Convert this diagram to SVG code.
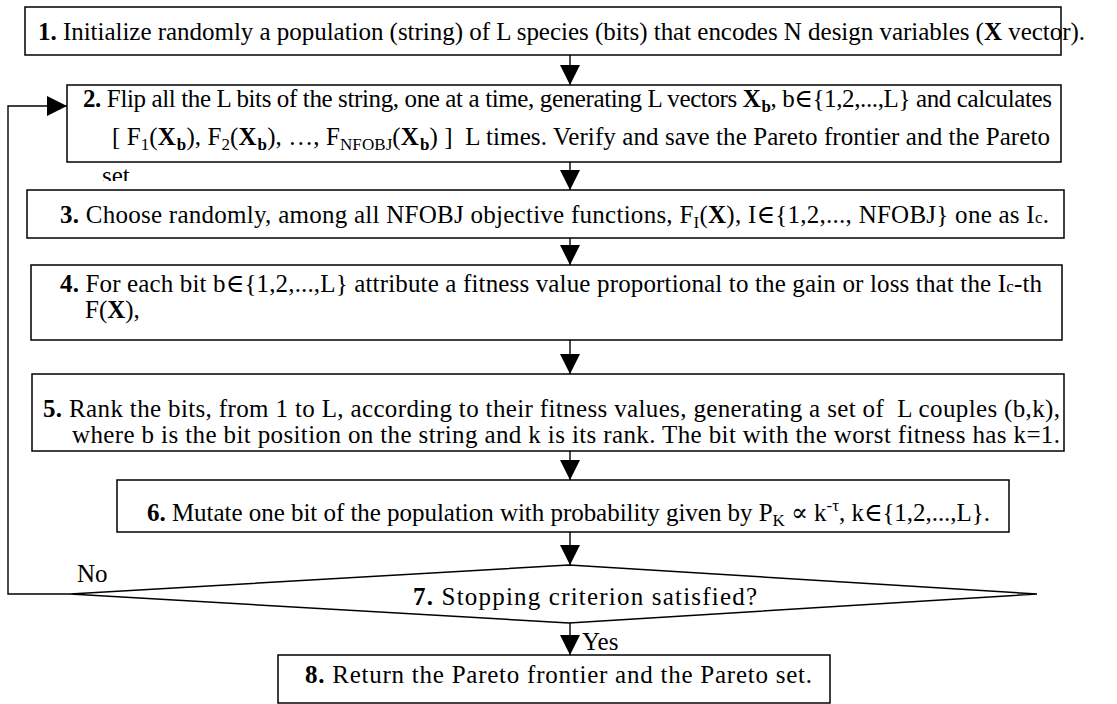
<svg xmlns="http://www.w3.org/2000/svg" width="1117" height="704" viewBox="0 0 1117 704">
  <style>
    text { font-family: "Liberation Serif", "Times New Roman", "DejaVu Serif", serif; font-size: 25px; fill: #000; }
    .b { font-weight: bold; }
    .s { font-size: 17px; }
    .box { fill: #fff; stroke: #000; stroke-width: 1.5; }
    .wire { fill: none; stroke: #000; stroke-width: 1.4; }
  </style>
  <defs>
    <marker id="head" markerUnits="userSpaceOnUse" markerWidth="20" markerHeight="20" viewBox="0 0 18 18" refX="18" refY="9" orient="auto">
      <path d="M0,0 L18,9 L0,18 z" fill="#000"/>
    </marker>
    <clipPath id="clip-overflow">
      <rect x="60" y="163" width="200" height="18"/>
    </clipPath>
  </defs>

  <rect width="1117" height="704" fill="#fff"/>

  <!-- connectors -->
  <g id="connectors">
    <line class="wire" x1="570" y1="55" x2="570" y2="85" marker-end="url(#head)"/>
    <line class="wire" x1="570" y1="162" x2="570" y2="190" marker-end="url(#head)"/>
    <line class="wire" x1="570" y1="238" x2="570" y2="265" marker-end="url(#head)"/>
    <line class="wire" x1="570" y1="340" x2="570" y2="374" marker-end="url(#head)"/>
    <line class="wire" x1="570" y1="451" x2="570" y2="480" marker-end="url(#head)"/>
    <line class="wire" x1="570" y1="532" x2="570" y2="565" marker-end="url(#head)"/>
    <line class="wire" x1="570" y1="623" x2="570" y2="655" marker-end="url(#head)"/>
    <path class="wire" d="M70,594 H8 V106 H67" marker-end="url(#head)"/>
    <text x="77" y="582">No</text>
    <text x="582" y="650">Yes</text>
  </g>

  <!-- step 1 -->
  <g id="step1">
    <rect class="box" x="25" y="7" width="1036" height="48"/>
    <text x="38" y="40" textLength="1047" lengthAdjust="spacing"><tspan class="b">1.</tspan> Initialize randomly a population (string) of L species (bits) that encodes N design variables (<tspan class="b">X</tspan> vector).</text>
  </g>

  <!-- step 2 -->
  <g id="step2">
    <rect class="box" x="67" y="85" width="994" height="77"/>
    <text x="83" y="107" textLength="969" lengthAdjust="spacing"><tspan class="b">2.</tspan> Flip all the L bits of the string, one at a time, generating L vectors <tspan class="b">X</tspan><tspan class="b s" dx="1" dy="5">b</tspan><tspan dy="-5">, b∈{1,2,...,L} and calculates</tspan></text>
    <text x="112" y="145" xml:space="preserve" textLength="938" lengthAdjust="spacing">[ F<tspan class="s" dy="5">1</tspan><tspan dy="-5">(</tspan><tspan class="b">X</tspan><tspan class="b s" dx="1" dy="5">b</tspan><tspan dy="-5">), F</tspan><tspan class="s" dy="5">2</tspan><tspan dy="-5">(</tspan><tspan class="b">X</tspan><tspan class="b s" dx="1" dy="5">b</tspan><tspan dy="-5">), …, F</tspan><tspan class="s" dy="5">NFOBJ</tspan><tspan dy="-5">(</tspan><tspan class="b">X</tspan><tspan class="b s" dx="1" dy="5">b</tspan><tspan dy="-5">) ]  L times. Verify and save the Pareto frontier and the Pareto</tspan></text>
    <text x="102" y="184" clip-path="url(#clip-overflow)">set</text>
  </g>

  <!-- step 3 -->
  <g id="step3">
    <rect class="box" x="27" y="190" width="1037" height="48"/>
    <text x="60" y="223" textLength="989" lengthAdjust="spacing"><tspan class="b">3.</tspan> Choose randomly, among all NFOBJ objective functions, F<tspan class="s" dy="5">I</tspan><tspan dy="-5">(</tspan><tspan class="b">X</tspan>), I∈{1,2,..., NFOBJ} one as I<tspan class="s">c</tspan>.</text>
  </g>

  <!-- step 4 -->
  <g id="step4">
    <rect class="box" x="31" y="265" width="1031" height="75"/>
    <text x="60" y="292" textLength="982" lengthAdjust="spacing"><tspan class="b">4.</tspan> For each bit b∈{1,2,...,L} attribute a fitness value proportional to the gain or loss that the I<tspan class="s">c</tspan>-th</text>
    <text x="85" y="318">F(<tspan class="b">X</tspan>),</text>
  </g>

  <!-- step 5 -->
  <g id="step5">
    <rect class="box" x="32" y="374" width="1032" height="77"/>
    <text x="43" y="417" xml:space="preserve" textLength="1017" lengthAdjust="spacing"><tspan class="b">5.</tspan> Rank the bits, from 1 to L, according to their fitness values, generating a set of  L couples (b,k),</text>
    <text x="72" y="443" textLength="988" lengthAdjust="spacing">where b is the bit position on the string and k is its rank. The bit with the worst fitness has k=1.</text>
  </g>

  <!-- step 6 -->
  <g id="step6">
    <rect class="box" x="117" y="480" width="892" height="52"/>
    <text x="147" y="521" textLength="843" lengthAdjust="spacing"><tspan class="b">6.</tspan> Mutate one bit of the population with probability given by P<tspan class="s" dy="5">K</tspan><tspan dy="-5"> ∝ k</tspan><tspan class="s" dy="-10">-τ</tspan><tspan dy="10">, k∈{1,2,...,L}.</tspan></text>
  </g>

  <!-- step 7: decision -->
  <g id="step7">
    <polygon class="box" points="569,565 1037,594 569,623 70,594"/>
    <text x="413" y="605" textLength="344" lengthAdjust="spacing"><tspan class="b">7.</tspan> Stopping criterion satisfied?</text>
  </g>

  <!-- step 8 -->
  <g id="step8">
    <rect class="box" x="278" y="655" width="552" height="48"/>
    <text x="305" y="683" textLength="507" lengthAdjust="spacing"><tspan class="b">8.</tspan> Return the Pareto frontier and the Pareto set.</text>
  </g>
</svg>
